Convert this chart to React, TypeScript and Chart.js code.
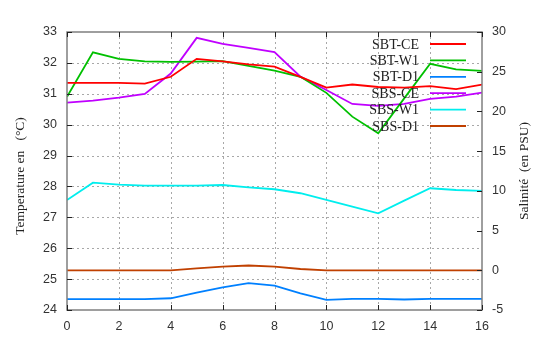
import React, { useEffect, useRef } from 'react';
import { Chart, registerables } from 'chart.js';
Chart.register(...registerables);

const hours = [0, 1, 2, 3, 4, 5, 6, 7, 8, 9, 10, 11, 12, 13, 14, 15, 16];
// Temperatures (°C) – left axis
const sbtCE = [31.35, 31.35, 31.35, 31.33, 31.55, 32.13, 32.05, 31.95, 31.88, 31.55, 31.2, 31.3, 31.22, 31.2, 31.25, 31.15, 31.3];
const sbtW1 = [30.9, 32.34, 32.13, 32.05, 32.03, 32.04, 32.06, 31.9, 31.75, 31.55, 31.03, 30.26, 29.72, 30.85, 31.97, 31.79, 31.74];
const sbtD1 = [24.35, 24.35, 24.35, 24.35, 24.38, 24.56, 24.73, 24.87, 24.79, 24.54, 24.33, 24.36, 24.36, 24.34, 24.36, 24.36, 24.36];
// Salinity (PSU) – right axis
const sbsCE = [21.1, 21.36, 21.74, 22.2, 24.77, 29.26, 28.5, 28.0, 27.46, 24.38, 22.7, 20.94, 20.7, 20.94, 21.57, 21.86, 22.37];
const sbsW1 = [8.85, 11.03, 10.78, 10.65, 10.65, 10.65, 10.74, 10.45, 10.2, 9.7, 8.85, 8.0, 7.18, 8.77, 10.33, 10.11, 9.99];
const sbsD1 = [0, 0, 0, 0, 0, 0.25, 0.45, 0.6, 0.45, 0.16, 0, 0, 0, 0, 0, 0, 0];

const seriesNames = ['SBT-CE', 'SBT-W1', 'SBT-D1', 'SBS-CE', 'SBS-W1', 'SBS-D1'];
const seriesColors = ['#ff0000', '#00c000', '#0080ff', '#c000ff', '#00eeee', '#c04000'];
const xTickValues = [0, 2, 4, 6, 8, 10, 12, 14, 16];
const leftTickValues = [24, 25, 26, 27, 28, 29, 30, 31, 32, 33];
const rightTickValues = [-5, 0, 5, 10, 15, 20, 25, 30];
const leftTitle = 'Temperature en   (°C)';
const rightTitle = 'Salinité  (en PSU)';

const toPoints = (arr: number[]) => hours.map((h, i) => ({ x: h, y: arr[i] }));

const decorPlugin = {
  id: 'decor',
  beforeDatasetsDraw(chart: any) {
    const { ctx, chartArea: a, scales } = chart;
    ctx.save();
    ctx.strokeStyle = '#a8a8a8';
    ctx.lineWidth = 1;
    ctx.setLineDash([2, 3]);
    xTickValues.forEach((v) => {
      if (v === 0 || v === 16) return;
      const x = Math.round(scales.x.getPixelForValue(v)) + 0.5;
      ctx.beginPath();
      ctx.moveTo(x, a.top);
      ctx.lineTo(x, a.bottom);
      ctx.stroke();
    });
    leftTickValues.forEach((v) => {
      if (v === 24 || v === 33) return;
      const y = Math.round(scales.y.getPixelForValue(v)) + 0.5;
      ctx.beginPath();
      ctx.moveTo(a.left, y);
      ctx.lineTo(a.right, y);
      ctx.stroke();
    });
    ctx.restore();
  },
  afterDatasetsDraw(chart: any) {
    const { ctx, chartArea: a, scales } = chart;
    ctx.save();
    // border
    ctx.strokeStyle = '#7f7f7f';
    ctx.lineWidth = 1.5;
    ctx.strokeRect(a.left, a.top, a.right - a.left, a.bottom - a.top);
    // tick marks
    ctx.strokeStyle = '#222';
    ctx.lineWidth = 1;
    const tl = 5;
    xTickValues.forEach((v) => {
      const x = Math.round(scales.x.getPixelForValue(v)) + 0.5;
      ctx.beginPath();
      ctx.moveTo(x, a.bottom);
      ctx.lineTo(x, a.bottom - tl);
      ctx.moveTo(x, a.top);
      ctx.lineTo(x, a.top + tl);
      ctx.stroke();
    });
    leftTickValues.forEach((v) => {
      const y = Math.round(scales.y.getPixelForValue(v)) + 0.5;
      ctx.beginPath();
      ctx.moveTo(a.left, y);
      ctx.lineTo(a.left + tl, y);
      ctx.stroke();
    });
    rightTickValues.forEach((v) => {
      const y = Math.round(scales.y2.getPixelForValue(v)) + 0.5;
      ctx.beginPath();
      ctx.moveTo(a.right, y);
      ctx.lineTo(a.right - tl, y);
      ctx.stroke();
    });
    // legend
    ctx.font = '14px "Liberation Serif"';
    ctx.textAlign = 'right';
    ctx.textBaseline = 'middle';
    seriesNames.forEach((name, i) => {
      const y = 44 + i * 16.4;
      ctx.fillStyle = '#222';
      ctx.fillText(name, 419, y + 1);
      ctx.strokeStyle = seriesColors[i];
      ctx.lineWidth = 1.8;
      ctx.beginPath();
      ctx.moveTo(430, y);
      ctx.lineTo(466, y);
      ctx.stroke();
    });
    // axis titles
    ctx.font = '13.5px "Liberation Serif"';
    ctx.textAlign = 'center';
    ctx.fillStyle = '#222';
    ctx.save();
    ctx.translate(20, 176);
    ctx.rotate(-Math.PI / 2);
    ctx.fillText(leftTitle, 0, 0);
    ctx.restore();
    ctx.save();
    ctx.translate(524, 171);
    ctx.rotate(-Math.PI / 2);
    ctx.fillText(rightTitle, 0, 0);
    ctx.restore();
    ctx.restore();
  },
};

export default function App() {
  const ref = useRef<HTMLCanvasElement>(null);
  useEffect(() => {
    if (!ref.current) return;
    const tickFont = { family: '"Liberation Sans"', size: 12.5 };
    const datasets = [sbtCE, sbtW1, sbtD1, sbsCE, sbsW1, sbsD1].map((arr, i) => ({
      label: seriesNames[i],
      data: toPoints(arr),
      borderColor: seriesColors[i],
      backgroundColor: seriesColors[i],
      borderWidth: 1.8,
      pointRadius: 0,
      tension: 0,
      fill: false,
      yAxisID: i < 3 ? 'y' : 'y2',
    }));
    const chart = new Chart(ref.current, {
      type: 'line',
      data: { datasets },
      options: {
        animation: false,
        responsive: false,
        devicePixelRatio: 1,
        layout: { padding: { top: 32, left: 0, right: 0, bottom: 0 } },
        plugins: { legend: { display: false }, tooltip: { enabled: false } },
        scales: {
          x: {
            type: 'linear',
            min: 0,
            max: 16,
            afterBuildTicks: (s: any) => { s.ticks = xTickValues.map((v) => ({ value: v })); },
            afterFit: (s: any) => { s.height = 36; },
            ticks: { color: '#333', font: tickFont, padding: 9, maxRotation: 0 },
            grid: { display: false, drawTicks: false },
            border: { display: false },
          },
          y: {
            type: 'linear',
            position: 'left',
            min: 24,
            max: 33,
            afterBuildTicks: (s: any) => { s.ticks = leftTickValues.map((v) => ({ value: v })); },
            afterFit: (s: any) => { s.width = 67; },
            ticks: { color: '#333', font: tickFont, padding: 10 },
            grid: { display: false, drawTicks: false },
            border: { display: false },
          },
          y2: {
            type: 'linear',
            position: 'right',
            min: -5,
            max: 30,
            afterBuildTicks: (s: any) => { s.ticks = rightTickValues.map((v) => ({ value: v })); },
            afterFit: (s: any) => { s.width = 53; },
            ticks: { color: '#333', font: tickFont, padding: 10 },
            grid: { display: false, drawTicks: false },
            border: { display: false },
          },
        },
      },
      plugins: [decorPlugin],
    } as any);
    return () => chart.destroy();
  }, []);
  return (
    <div style={{ position: 'fixed', left: 0, top: 0, width: 535, height: 346, background: '#fff' }}>
      <canvas ref={ref} width={535} height={346} style={{ display: 'block' }} />
    </div>
  );
}
